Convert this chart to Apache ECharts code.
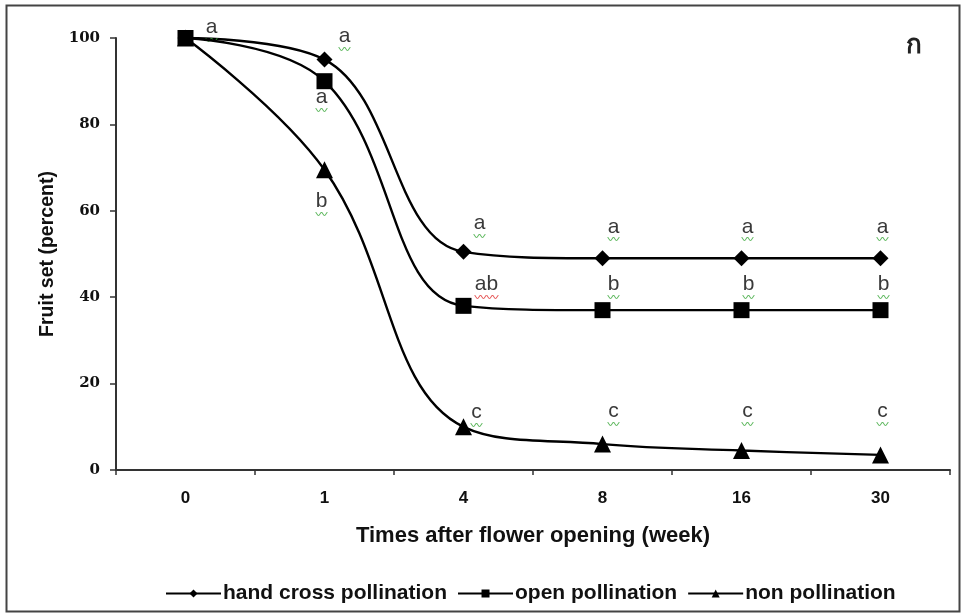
<!DOCTYPE html>
<html><head><meta charset="utf-8">
<script src="https://cdn.jsdelivr.net/npm/echarts@6/dist/echarts.min.js"></script>
<style>html,body{margin:0;padding:0;background:#fff}#c{width:963px;height:614px}</style>
</head><body><div id="c"></div>
<script>
// ---- data ----
const categories = ['0', '1', '4', '8', '16', '30'];
const handCross = [100, 95, 50.5, 49, 49, 49];
const openPollination = [100, 90, 38, 37, 37, 37];
const nonPollination = [100, 69.5, 10, 6, 4.5, 3.5];
const handLetters = ['a', 'a', 'a', 'a', 'a', 'a'];
const openLetters = ['', 'a', 'ab', 'b', 'b', 'b'];
const nonLetters = ['', 'b', 'c', 'c', 'c', 'c'];
const yTicks = [0, 20, 40, 60, 80, 100];

// ---- label placement (style) ----
const handOff = [[26, -7], [20, -20], [16, -25], [11, -28], [6, -28], [2, -28]];
const openOff = [[0, 0], [-3, 20], [23, -18], [11, -22], [7, -22], [3, -22]];
const nonOff = [[0, 0], [-3, 35], [13, -11], [11, -29], [6, -36], [2, -40]];

function build(values, letters, offs) {
  return values.map((v, i) => {
    const item = { value: v };
    if (letters[i]) {
      const red = letters[i] === 'ab';
      item.label = {
        show: true, position: 'inside', offset: offs[i],
        formatter: '{t|' + letters[i] + '}\n{' + (red ? 'r' : 'g') + '|' + (red ? '〰〰' : '〰') + '}',
        rich: {
          t: { fontFamily: 'Liberation Sans', fontSize: 21, color: '#3a3a3a', lineHeight: 19 },
          g: { fontFamily: 'Noto Sans CJK SC', fontSize: 12, color: '#3aa83a', lineHeight: 7 },
          r: { fontFamily: 'Noto Sans CJK SC', fontSize: 12, color: '#e03030', lineHeight: 7 }
        }
      };
    }
    return item;
  });
}

const chart = echarts.init(document.getElementById('c'));
const common = {
  type: 'line', smooth: 0.4, symbolSize: 14,
  lineStyle: { color: '#000', width: 2.4 },
  itemStyle: { color: '#000' },
  emphasis: { disabled: true }
};
chart.setOption({
  animation: false,
  backgroundColor: '#fff',
  graphic: [{
    type: 'rect', left: 4, top: 3, shape: { width: 953, height: 606 },
    style: { fill: 'none', stroke: '#444', lineWidth: 2 }, silent: true
  }],
  title: {
    text: 'ก', right: 36, top: 28,
    textStyle: { fontFamily: 'Noto Sans, DejaVu Sans, sans-serif', fontWeight: 'bold', fontSize: 26, color: '#222' }
  },
  grid: { left: 116, right: 13, top: 38, bottom: 144, containLabel: false },
  legend: {
    top: 578, left: 160, itemWidth: 55, itemHeight: 10, itemGap: 10,
    textStyle: { fontFamily: 'Liberation Sans', fontWeight: 'bold', fontSize: 21, color: '#111', padding: [0, 0, 0, -3] },
    data: ['hand cross pollination', 'open pollination', 'non pollination']
  },
  xAxis: {
    type: 'category', data: categories, boundaryGap: true,
    name: 'Times after flower opening (week)', nameLocation: 'middle', nameGap: 55,
    nameTextStyle: { fontFamily: 'Liberation Sans', fontWeight: 'bold', fontSize: 22, color: '#111' },
    axisLine: { lineStyle: { color: '#333', width: 2 } },
    axisTick: { show: true, length: 5, lineStyle: { color: '#333', width: 1.5 } },
    axisLabel: { margin: 20, fontFamily: 'Liberation Sans', fontWeight: 'bold', fontSize: 17, color: '#111' },
    splitLine: { show: false }
  },
  yAxis: {
    type: 'value', min: 0, max: 100, interval: 20,
    name: 'Fruit set (percent)', nameLocation: 'middle', nameGap: 58,
    nameTextStyle: { fontFamily: 'Liberation Sans', fontWeight: 'bold', fontSize: 19.5, color: '#111' },
    axisLine: { show: true, lineStyle: { color: '#333', width: 2 } },
    axisTick: { show: true, length: 6, lineStyle: { color: '#333', width: 1.5 } },
    axisLabel: { margin: 16, fontFamily: 'DejaVu Serif', fontWeight: 'bold', fontSize: 15, color: '#111',
      formatter: v => yTicks.includes(v) ? String(v) : '' },
    splitLine: { show: false }
  },
  series: [
    Object.assign({}, common, { name: 'hand cross pollination', symbol: 'diamond', symbolSize: 16, z: 2,
      data: build(handCross, handLetters, handOff) }),
    Object.assign({}, common, { name: 'open pollination', symbol: 'rect', symbolSize: 16, z: 4,
      data: build(openPollination, openLetters, openOff) }),
    Object.assign({}, common, { name: 'non pollination', symbol: 'triangle', symbolSize: 17, z: 3,
      data: build(nonPollination, nonLetters, nonOff) })
  ]
});
</script></body></html>
